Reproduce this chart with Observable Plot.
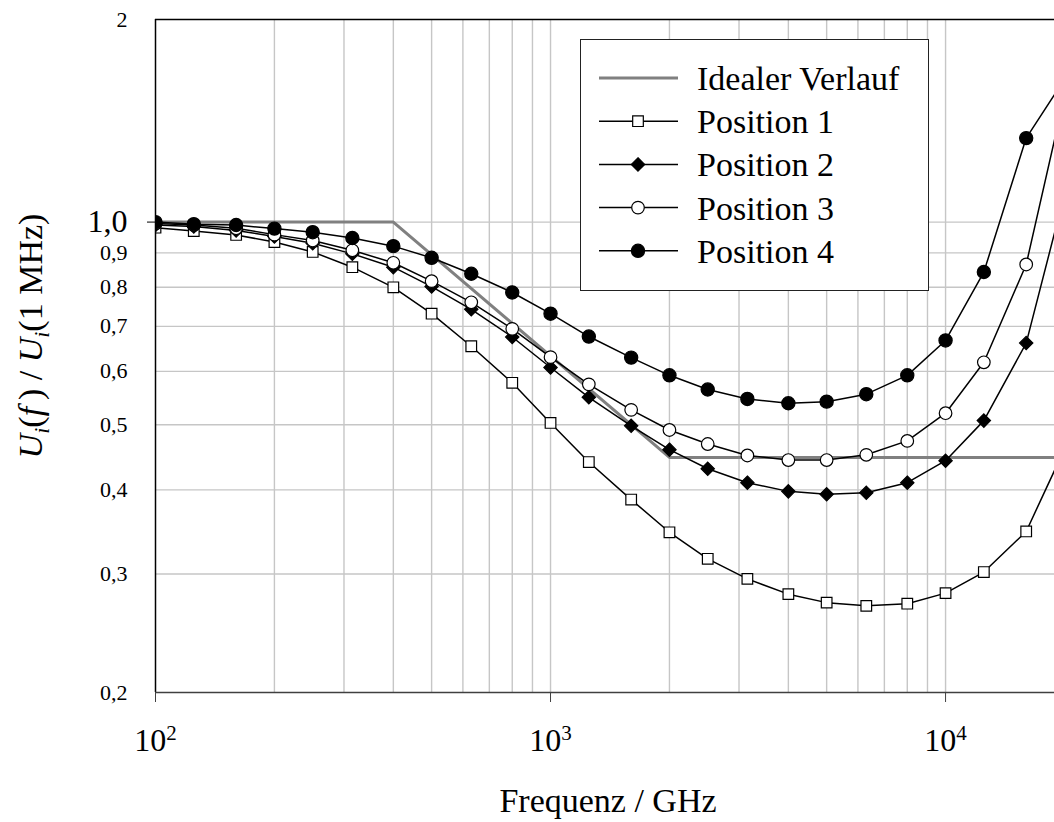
<!DOCTYPE html>
<html><head><meta charset="utf-8">
<script src="https://cdn.jsdelivr.net/npm/d3@7"></script>
<script src="https://cdn.jsdelivr.net/npm/@observablehq/plot@0.6"></script>
<style>
body{margin:0;background:#fff;}
#wrap{position:relative;width:1054px;height:822px;overflow:hidden;font-family:'Liberation Serif','Times New Roman','DejaVu Serif',serif;}
#wrap svg, #wrap svg text{font-family:'Liberation Serif','Times New Roman','DejaVu Serif',serif !important;}
#legend{position:absolute;left:580px;top:39px;}
</style></head><body><div id="wrap"></div>
<script>
// ---- data ----
const freq = [100,125,160,200,250,315,400,500,630,800,1000,1250,1600,2000,2500,3150,4000,5000,6300,8000,10000,12500,16000,20000];
const seriesNames = ["Position 1","Position 2","Position 3","Position 4"];
const pos1 = [0.981,0.970,0.957,0.934,0.903,0.857,0.800,0.731,0.654,0.577,0.503,0.440,0.387,0.346,0.316,0.295,0.280,0.272,0.269,0.271,0.281,0.302,0.347,0.460];
const pos2 = [0.990,0.985,0.972,0.952,0.930,0.897,0.857,0.802,0.742,0.675,0.608,0.549,0.498,0.459,0.430,0.410,0.398,0.394,0.396,0.410,0.442,0.507,0.661,1.100];
const pos3 = [0.995,0.990,0.979,0.958,0.939,0.908,0.870,0.817,0.760,0.694,0.630,0.574,0.526,0.491,0.468,0.450,0.443,0.443,0.451,0.473,0.520,0.619,0.865,1.540];
const pos4 = [1.000,0.993,0.990,0.978,0.966,0.947,0.921,0.885,0.838,0.786,0.731,0.676,0.629,0.592,0.564,0.546,0.538,0.541,0.555,0.592,0.667,0.843,1.333,1.630];
const idealName = "Idealer Verlauf";
const idealFreq = [100,400,2000,20000];
const idealVal = [1,1,0.447,0.447];
const yTickVals = [0.2,0.3,0.4,0.5,0.6,0.7,0.8,0.9,2];
const yBigTick = [1];
const xDecades = [100,1000,10000];
const xGrid = [200,300,400,500,600,700,800,900,1000,2000,3000,4000,5000,6000,7000,8000,9000,10000];
const yGrid = [0.3,0.4,0.5,0.6,0.7,0.8,0.9,1.0];
const xLabel = "Frequenz / GHz";

// ---- styles ----
const FONT = "'Liberation Serif','Times New Roman','DejaVu Serif',serif";
const sym = {"Position 1":"square","Position 2":"diamond2","Position 3":"circle","Position 4":"circle"};
const fills = {"Position 1":"white","Position 2":"black","Position 3":"white","Position 4":"black"};
const rad = {"Position 1":6.0,"Position 2":6.0,"Position 3":6.3,"Position 4":6.6};

const rows = [];
[pos1,pos2,pos3,pos4].forEach((arr,i)=>arr.forEach((v,j)=>rows.push({series:seriesNames[i], f:freq[j], v})));
const ideal = idealFreq.map((f,i)=>({f, v:idealVal[i]}));
const fmt = d => d===2 ? "2" : d.toFixed(1).replace(".", ",");

const marks = [
  Plot.ruleX(xGrid,{stroke:"#c6c6c6", strokeWidth:1.4}),
  Plot.ruleY(yGrid,{stroke:"#c6c6c6", strokeWidth:1.4}),
  Plot.line(ideal,{x:"f", y:"v", stroke:"#808080", strokeWidth:3, clip:true})
];
for (const name of seriesNames) {
  const d = rows.filter(r=>r.series===name);
  marks.push(Plot.line(d,{x:"f", y:"v", stroke:"black", strokeWidth:1.5, clip:true}));
}
for (const name of seriesNames) {
  const d = rows.filter(r=>r.series===name);
  marks.push(Plot.dot(d,{x:"f", y:"v", symbol:sym[name], r:rad[name], fill:fills[name], stroke:"black", strokeWidth:1.2, clip:true}));
}
marks.push(
  Plot.ruleY([2],{stroke:"black", strokeWidth:1.5}),
  Plot.ruleX([100],{stroke:"black", strokeWidth:1.5}),
  Plot.ruleY([0.2],{stroke:"#404040", strokeWidth:1.5}),
  Plot.axisY(yTickVals,{tickSize:0, tickPadding:28, fontSize:22, tickFormat:fmt, label:null}),
  Plot.axisY(yBigTick,{tickSize:8, tickPadding:20, fontSize:32, tickFormat:fmt, label:null}),
  Plot.axisX(xDecades,{tickSize:10, tickPadding:26, fontSize:32, tickFormat:d=>"10^"+Math.round(Math.log10(d)), label:null, stroke:"#404040"})
);

const chart = Plot.plot({
  width:1054, height:822,
  marginLeft:155, marginRight:0, marginTop:19, marginBottom:130,
  style:{fontFamily:FONT, background:"white", color:"black"},
  x:{type:"log", domain:[100,18870]},
  y:{type:"log", domain:[0.2,2]},
  marks
});
document.getElementById("wrap").appendChild(chart);

// superscripts for decade labels
d3.select(chart).selectAll("text").each(function(){
  const t = this.textContent;
  const m = /^10\^(\d+)$/.exec(t);
  if (m) {
    const el = d3.select(this);
    el.text("10");
    el.append("tspan").attr("dy","-11").attr("font-size","21").text(m[1]);
  }
});

const svg = d3.select(chart);
// x label
svg.append("text").attr("x",608).attr("y",812).attr("text-anchor","middle")
  .attr("font-size",34).attr("fill","black").text(xLabel);
// y label
const yl = svg.append("text").attr("transform","translate(42,336) rotate(-90)")
  .attr("text-anchor","middle").attr("font-size",34).attr("fill","black");
yl.append("tspan").attr("font-style","italic").text("U");
yl.append("tspan").attr("font-style","italic").attr("font-size",22).attr("dy",7).text("i");
yl.append("tspan").attr("dy",-7).text("(");
yl.append("tspan").attr("font-style","italic").text("f");
yl.append("tspan").text("\u2009) / ");
yl.append("tspan").attr("font-style","italic").text("U");
yl.append("tspan").attr("font-style","italic").attr("font-size",22).attr("dy",7).text("i");
yl.append("tspan").attr("dy",-7).text("(1 MHz)");

// legend
const legendItems = [idealName, ...seriesNames];
const lg = d3.select("#wrap").append("svg").attr("id","legend")
  .attr("width",349).attr("height",252);
lg.append("rect").attr("x",0.5).attr("y",0.5).attr("width",348).attr("height",251)
  .attr("fill","white").attr("stroke","#222").attr("stroke-width",1);
legendItems.forEach((name,i)=>{
  const cy = 39 + i*43.2;
  const g = lg.append("g");
  if (i===0) {
    g.append("line").attr("x1",19).attr("x2",98).attr("y1",cy).attr("y2",cy).attr("stroke","#808080").attr("stroke-width",3);
  } else {
    g.append("line").attr("x1",19).attr("x2",98).attr("y1",cy).attr("y2",cy).attr("stroke","black").attr("stroke-width",1.5);
    const r = rad[name];
    const symType = {square:d3.symbolSquare, diamond2:d3.symbolDiamond2, circle:d3.symbolCircle}[sym[name]];
    g.append("path").attr("d", d3.symbol(symType, Math.PI*r*r)()).attr("transform",`translate(58,${cy})`)
      .attr("fill",fills[name]).attr("stroke","black").attr("stroke-width",1.2);
  }
  g.append("text").attr("x",117).attr("y",cy).attr("dy","0.35em").attr("font-size",34)
    .attr("fill","black").text(name);
});
</script></body></html>
